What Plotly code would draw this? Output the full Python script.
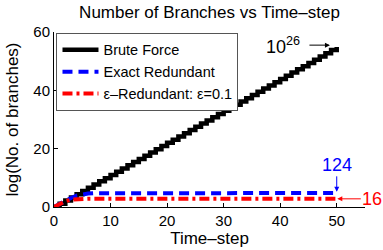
import plotly.graph_objects as go

time_steps = list(range(0, 51))
brute_force = [0.0, 1.1, 2.2, 3.3, 4.4, 5.5, 6.6, 7.7, 8.8, 9.9, 11.0, 12.1, 13.2, 14.3, 15.4,
               16.5, 17.6, 18.7, 19.8, 20.9, 22.0, 23.1, 24.2, 25.3, 26.4, 27.5, 28.6, 29.7,
               30.8, 31.9, 33.0, 34.0, 35.1, 36.2, 37.3, 38.4, 39.5, 40.6, 41.7, 42.8, 43.9,
               45.0, 46.1, 47.2, 48.3, 49.4, 50.5, 51.6, 52.7, 53.8, 54.9]
exact_redundant = [0.0, 1.1, 2.2, 3.1, 3.9, 4.4, 4.6, 4.7, 4.7, 4.7, 4.7, 4.7, 4.7, 4.7, 4.8,
                   4.8, 4.8, 4.8, 4.8, 4.8, 4.8, 4.8, 4.8, 4.8, 4.8, 4.8, 4.8, 4.8, 4.8, 4.8,
                   4.8, 4.8, 4.8, 4.8, 4.8, 4.8, 4.8, 4.8, 4.8, 4.8, 4.8, 4.8, 4.8, 4.8, 4.8,
                   4.8, 4.8, 4.8, 4.8, 4.8, 4.8]
eps_redundant = [0.0, 1.1, 2.0, 2.5, 2.7, 2.8, 2.8, 2.8, 2.8, 2.7, 2.7, 2.7, 2.8, 2.8, 2.8,
                 2.8, 2.8, 2.8, 2.8, 2.8, 2.8, 2.8, 2.8, 2.8, 2.8, 2.8, 2.8, 2.8, 2.8, 2.8,
                 2.8, 2.8, 2.8, 2.8, 2.8, 2.8, 2.8, 2.8, 2.8, 2.8, 2.8, 2.8, 2.8, 2.8, 2.8,
                 2.8, 2.8, 2.8, 2.8, 2.8, 2.8]

series_names = ["Brute Force", "Exact Redundant", "ε–Redundant: ε=0.1"]
x_ticks = [0, 10, 20, 30, 40, 50]
y_ticks = [0, 20, 40, 60]
end_labels = ["10<sup>26</sup>", "124", "16"]

FONT = "Liberation Sans, Arial, sans-serif"

fig = go.Figure()
fig.add_trace(go.Scatter(x=time_steps, y=brute_force, mode="lines", name=series_names[0],
                         line=dict(color="black", width=4.5, shape="hv")))
fig.add_trace(go.Scatter(x=time_steps, y=exact_redundant, mode="lines", name=series_names[1],
                         line=dict(color="#0000ff", width=4, dash="10px,6px")))
fig.add_trace(go.Scatter(x=time_steps, y=eps_redundant, mode="lines", name=series_names[2],
                         line=dict(color="#ff0000", width=4, dash="10px,4px,3px,4px")))

last = time_steps[-1]
fig.add_annotation(x=last - 1.2, y=brute_force[-1] + 0.6, xref="x", yref="y",
                   text=end_labels[0], showarrow=True, ax=-47, ay=0,
                   arrowhead=2, arrowsize=1, arrowwidth=1, arrowcolor="black",
                   startstandoff=8, font=dict(size=18, color="black", family=FONT))
fig.add_annotation(x=last, y=exact_redundant[-1] + 0.4, xref="x", yref="y",
                   text=end_labels[1], showarrow=True, ax=0, ay=-27,
                   arrowhead=2, arrowsize=1, arrowwidth=1, arrowcolor="#0000ff",
                   font=dict(size=18, color="#0000ff", family=FONT))
fig.add_annotation(x=last + 0.1, y=eps_redundant[-1], xref="x", yref="y",
                   text=end_labels[2], showarrow=True, ax=35, ay=0,
                   arrowhead=2, arrowsize=1, arrowwidth=1, arrowcolor="#ff0000",
                   font=dict(size=18, color="#ff0000", family=FONT))

fig.update_layout(
    width=383, height=250,
    margin=dict(l=54, r=18, t=32, b=43, autoexpand=False),
    paper_bgcolor="white", plot_bgcolor="white",
    font=dict(family=FONT, color="black", size=15),
    title=dict(text="Number of Branches vs Time–step", x=0.5, xref="paper", xanchor="center",
               y=0.952, yref="container", yanchor="middle", font=dict(size=17, family=FONT)),
    showlegend=True,
    legend=dict(x=0.008, y=0.995, xanchor="left", yanchor="top",
                bgcolor="white", bordercolor="#555555", borderwidth=1,
                font=dict(size=14.5, family=FONT), tracegroupgap=0,
                itemwidth=36),
    xaxis=dict(range=[0, 55], tickvals=x_ticks, showgrid=False, zeroline=False,
               showline=True, linecolor="black", linewidth=1, ticks="inside",
               ticklen=4, tickcolor="black", tickfont=dict(size=15), automargin=False,
               title=dict(text="Time–step", font=dict(size=17), standoff=3)),
    yaxis=dict(range=[0, 60], tickvals=y_ticks, showgrid=False, zeroline=False,
               showline=True, linecolor="black", linewidth=1, ticks="inside",
               ticklen=4, tickcolor="black", tickfont=dict(size=15), automargin=False,
               title=dict(text="log(No. of branches)", font=dict(size=17), standoff=10)),
)

fig.write_html("out.html", config={"displayModeBar": False},
               post_script="document.body.style.margin='0';document.body.style.padding='0';")
